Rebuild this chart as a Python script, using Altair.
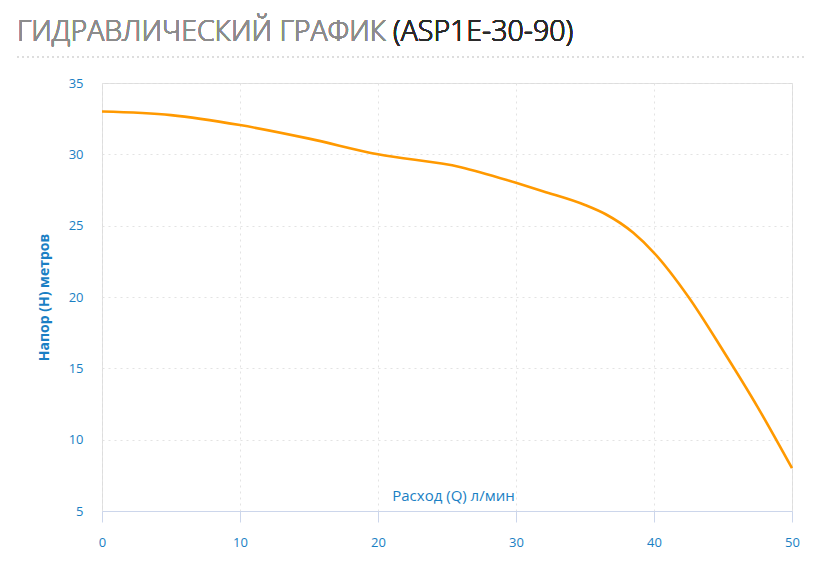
import altair as alt
import pandas as pd

# Flow (Q, l/min) and head (H, m)
flow = [0, 5, 10, 15, 20, 26, 30, 32, 35, 36.5, 38.5, 40, 42.5, 45, 47.5, 50]
head = [33.0, 32.75, 32.05, 31.1, 30.0, 29.1, 28.0, 27.4, 26.45, 25.8, 24.5, 23.1, 20.0, 16.25, 12.3, 8.0]

x_ticks = [0, 10, 20, 30, 40, 50]
y_ticks = [5, 10, 15, 20, 25, 30, 35]

title_main = "ГИДРАВЛИЧЕСКИЙ ГРАФИК"
title_model = "(ASP1E-30-90)"
x_title = "Расход (Q) л/мин"
y_title = "Напор (H) метров"

df = pd.DataFrame({"Q": flow, "H": head})

BLUE = "#1a7fc4"
FONT = "Open Sans"
W, H = 690, 428

line = alt.Chart(df).mark_line(
    color="#ff9900", strokeWidth=2.6, interpolate="monotone", clip=False
).encode(
    x=alt.X(
        "Q:Q",
        scale=alt.Scale(domain=[0, 50], nice=False, zero=False),
        axis=alt.Axis(
            values=x_ticks,
            title=x_title,
            titleColor=BLUE,
            titleFont=FONT,
            titleFontSize=15,
            titleFontWeight="normal",
            titleX=351,
            titleY=-11,
            titleAlign="center",
            titleBaseline="alphabetic",
            labelColor=BLUE,
            labelFont=FONT,
            labelFontSize=13,
            labelPadding=14,
            labelFlush=False,
            domainColor="#ccd6eb",
            domainWidth=1,
            tickColor="#ccd6eb",
            tickSize=11,
            tickWidth=1,
            grid=True,
            gridColor="#e3e3e3",
            gridDash=[2, 4],
            gridWidth=1,
        ),
    ),
    y=alt.Y(
        "H:Q",
        scale=alt.Scale(domain=[5, 35], nice=False, zero=False),
        axis=alt.Axis(
            values=y_ticks,
            title=y_title,
            titleColor=BLUE,
            titleFont=FONT,
            titleFontSize=14,
            titleFontWeight="bold",
            titleX=-58,
            titleY=H / 2,
            titleAngle=270,
            titleAlign="center",
            titleBaseline="middle",
            labelColor=BLUE,
            labelFont=FONT,
            labelFontSize=13,
            labelPadding=19,
            labelFlush=False,
            domain=False,
            ticks=False,
            grid=True,
            gridColor="#e3e3e3",
            gridDash=[2, 4],
            gridWidth=1,
        ),
    ),
)

title_gray = alt.Chart(df).mark_text(
    text=title_main, align="left", baseline="alphabetic",
    font=FONT, fontSize=28.5, fontWeight=300, color="#8c8c8c"
).encode(x=alt.value(-85), y=alt.value(-42))

title_dark = alt.Chart(df).mark_text(
    text=title_model, align="left", baseline="alphabetic",
    font=FONT, fontSize=28.5, fontWeight=300, color="#2b2b2b"
).encode(x=alt.value(291), y=alt.value(-42))

sep = alt.Chart(df).mark_rule(
    color="#dddddd", strokeDash=[2, 3], strokeWidth=1
).encode(x=alt.value(-85), x2=alt.value(703), y=alt.value(-26))

chart = alt.layer(sep, title_gray, title_dark, line).properties(
    width=W,
    height=H,
    autosize=alt.AutoSizeParams(type="none"),
    padding={"left": 94, "top": 75, "right": 20, "bottom": 60},
).configure_view(stroke=None).configure(background="white")

chart.save("out.html", embed_options={"renderer": "svg", "actions": False})
